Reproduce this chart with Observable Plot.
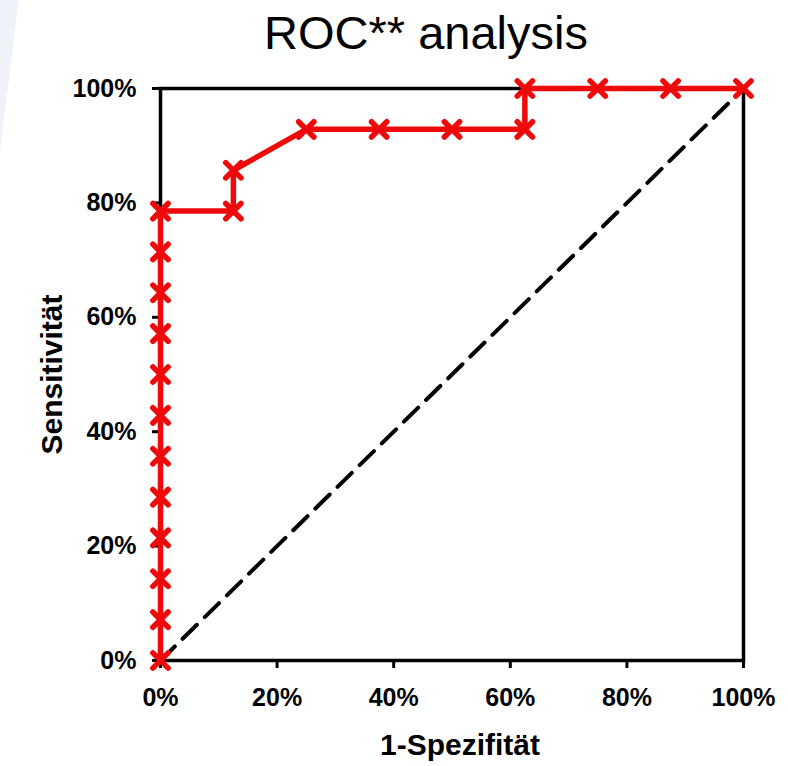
<!DOCTYPE html>
<html>
<head>
<meta charset="utf-8">
<script src="https://cdn.jsdelivr.net/npm/d3@7"></script>
<script src="https://cdn.jsdelivr.net/npm/@observablehq/plot@0.6"></script>
<style>
  body { margin: 0; background: #fff; }
  #wrap { position: relative; width: 788px; height: 766px; overflow: hidden;
          background: linear-gradient(97deg, #eff3f9 0px, #eff3f9 18px, #ffffff 19px); }
  #title { position: absolute; left: 0; top: 9px; width: 852px; text-align: center;
           font-family: "Liberation Sans", Arial, sans-serif; font-size: 47px; line-height: 47px; color: #000; }
  #chart { position: absolute; left: 0; top: 0; }
</style>
</head>
<body>
<div id="wrap"><div id="chart"></div><div id="title"></div></div>
<script>
const titleText = "ROC** analysis";
const xLabel = "1-Spezifität";
const yLabel = "Sensitivität";
const tickValues = [0, 20, 40, 60, 80, 100];
// 1 - specificity (%)
const fpr = [0, 0, 0, 0, 0, 0, 0, 0, 0, 0, 0, 0, 12.5, 12.5, 25, 37.5, 50, 62.5, 62.5, 75, 87.5, 100];
// sensitivity (%)
const sens = [0, 7.14, 14.29, 21.43, 28.57, 35.71, 42.86, 50, 57.14, 64.29, 71.43, 78.57, 78.57, 85.71, 92.86, 92.86, 92.86, 92.86, 100, 100, 100, 100];
// reference diagonal
const diagX = [0, 100];
const diagY = [0, 100];

const red = "#ee0a0a";
const roc = fpr.map((x, i) => ({x, y: sens[i]}));
const diag = diagX.map((x, i) => ({x, y: diagY[i]}));

document.getElementById("title").textContent = titleText;

const fmt = d => d + "%";

const chart = Plot.plot({
  width: 788,
  height: 766,
  marginLeft: 160,
  marginRight: 45,
  marginTop: 88,
  marginBottom: 106,
  style: {
    fontFamily: "'Liberation Sans', Arial, sans-serif",
    fontSize: "25px",
    fontWeight: "bold",
    color: "#000",
    background: "transparent",
    overflow: "visible"
  },
  x: {domain: [0, 100], label: null},
  y: {domain: [0, 100], label: null},
  marks: [
    Plot.axisX({ticks: tickValues, tickFormat: fmt, tickSize: 8, tickPadding: 20, strokeWidth: 3, label: null, fontSize: 25, fontWeight: "bold"}),
    Plot.axisY({ticks: tickValues, tickFormat: fmt, tickSize: 8, tickPadding: 16, strokeWidth: 3, label: null, fontSize: 25, fontWeight: "bold"}),
    Plot.frame({stroke: "#000", strokeWidth: 3.5}),
    Plot.line(diag, {x: "x", y: "y", stroke: "#000", strokeWidth: 4, strokeDasharray: "20,11"}),
    Plot.line(roc, {x: "x", y: "y", stroke: red, strokeWidth: 5.5, strokeLinejoin: "round"}),
    Plot.dot(roc, {x: "x", y: "y", symbol: "times", r: 7, stroke: red, strokeWidth: 5.5, strokeLinecap: "round"}),
    Plot.text([xLabel], {text: d => d, frameAnchor: "bottom", lineAnchor: "middle", textAnchor: "middle", dy: 85, dx: 8, fontSize: 30, fontWeight: "bold", fill: "#000"}),
    Plot.text([yLabel], {text: d => d, frameAnchor: "left", lineAnchor: "middle", textAnchor: "middle", dx: -108, rotate: -90, fontSize: 30, fontWeight: "bold", fill: "#000"})
  ]
});
document.getElementById("chart").appendChild(chart);
</script>
</body>
</html>
